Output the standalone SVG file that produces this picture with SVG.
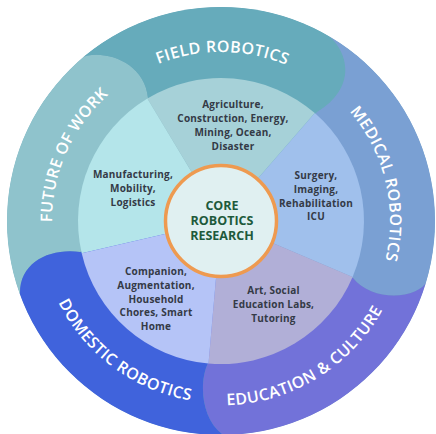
<svg xmlns="http://www.w3.org/2000/svg" width="436" height="434" viewBox="0 0 436 434">
<style>
.band-label{font-family:"Open Sans","Noto Sans",sans-serif;font-weight:600;font-size:16px;fill:#ffffff;letter-spacing:0.4px}
.slice-text{font-family:"Open Sans","Noto Sans",sans-serif;font-weight:700;font-size:10px;letter-spacing:0.2px;fill:#343a46;text-anchor:middle}
.core-text{font-family:"Open Sans","Noto Sans",sans-serif;font-weight:700;font-size:12.5px;fill:#1d5a3b;text-anchor:middle}
</style>
<defs>
<clipPath id="outerClip"><circle cx="221" cy="221" r="214"/></clipPath>
<path id="pField" d="M75.4,135.2 A169,169 0 0 1 368.1,137.8"/>
<path id="pMedical" d="M269,59 A169,169 0 0 1 337.3,343.6"/>
<path id="pEducation" d="M133,383.1 A184.5,184.5 0 0 0 405.4,216.2"/>
<path id="pDomestic" d="M40.2,200.4 A182,182 0 0 0 293.6,387.9"/>
<path id="pFuture" d="M84.3,320.3 A169,169 0 0 1 203.3,52.9"/>
</defs>
<g id="ring" clip-path="url(#outerClip)">
<circle cx="221" cy="221" r="214" fill="#6fa9bd"/>
<g id="future-of-work"><path fill="#8fc3cc" d="M-14.4,305.3 L20,293 C20,262 50,248 80,252 L221,221 L148,98 C145,60 100,48 80,58 L57.3,32 A250,250 0 0 0 -14.4,305.3 Z"/></g>
<g id="field-robotics"><path fill="#66abbb" d="M57.3,32 L80,58 C100,48 145,60 148,98 L221,221 L317,112 C362,85 350,38 305,22 L318.3,-9.3 A250,250 0 0 0 57.3,32 Z"/></g>
<g id="medical-robotics"><path fill="#7aa0d3" d="M318.3,-9.3 L305,22 C350,38 362,85 317,112 L221,221 L353,278 C372,302 418,300 428,280 L461.4,289.5 A250,250 0 0 0 318.3,-9.3 Z"/></g>
<g id="education-culture"><path fill="#7272d9" d="M461.4,289.5 L428,280 C418,300 372,302 353,278 L221,221 L208,363 C199,382 201,418 222,434 L222.3,471 A250,250 0 0 0 461.4,289.5 Z"/></g>
<g id="domestic-robotics"><path fill="#4063dc" d="M222.3,471 L222,434 C201,418 199,382 208,363 L221,221 L80,252 C50,248 20,262 20,293 L-14.4,305.3 A250,250 0 0 0 222.3,471 Z"/></g>
</g>
<g id="band-labels">
<text class="band-label"><textPath href="#pField" startOffset="50%" text-anchor="middle">FIELD ROBOTICS</textPath></text>
<text class="band-label"><textPath href="#pMedical" startOffset="50%" text-anchor="middle">MEDICAL ROBOTICS</textPath></text>
<text class="band-label"><textPath href="#pEducation" startOffset="50%" text-anchor="middle">EDUCATION &amp; CULTURE</textPath></text>
<text class="band-label"><textPath href="#pDomestic" startOffset="50%" text-anchor="middle">DOMESTIC ROBOTICS</textPath></text>
<text class="band-label"><textPath href="#pFuture" startOffset="50%" text-anchor="middle">FUTURE OF WORK</textPath></text>
</g>
<g id="slice-manufacturing">
<path fill="#b4e5ea" d="M221,221 L81.7,253.2 A143,143 0 0 1 147.4,98.4 Z"/>
<text class="slice-text"><tspan x="133" y="178.3">Manufacturing,</tspan><tspan x="133" y="192.3">Mobility,</tspan><tspan x="133" y="206.3">Logistics</tspan></text>
</g>
<g id="slice-agriculture">
<path fill="#a6d1d8" d="M221,221 L147.4,98.4 A143,143 0 0 1 314.8,113.1 Z"/>
<text class="slice-text"><tspan x="233" y="107.5">Agriculture,</tspan><tspan x="233" y="121.8">Construction, Energy,</tspan><tspan x="233" y="136.1">Mining, Ocean,</tspan><tspan x="233" y="150.4">Disaster</tspan></text>
</g>
<g id="slice-surgery">
<path fill="#a0c0ec" d="M221,221 L314.8,113.1 A143,143 0 0 1 352.6,276.9 Z"/>
<text class="slice-text"><tspan x="316" y="179.3">Surgery,</tspan><tspan x="316" y="193">Imaging,</tspan><tspan x="316" y="206.7">Rehabilitation</tspan><tspan x="316" y="220.4">ICU</tspan></text>
</g>
<g id="slice-art">
<path fill="#b1afd7" d="M221,221 L352.6,276.9 A143,143 0 0 1 208.5,363.5 Z"/>
<text class="slice-text"><tspan x="273.5" y="293.5">Art, Social</tspan><tspan x="273.5" y="307.8">Education Labs,</tspan><tspan x="273.5" y="322.1">Tutoring</tspan></text>
</g>
<g id="slice-companion">
<path fill="#b5c4f7" d="M221,221 L208.5,363.5 A143,143 0 0 1 81.7,253.2 Z"/>
<text class="slice-text"><tspan x="156" y="275.2">Companion,</tspan><tspan x="156" y="288.9">Augmentation,</tspan><tspan x="156" y="302.6">Household</tspan><tspan x="156" y="316.3">Chores, Smart</tspan><tspan x="156" y="330">Home</tspan></text>
</g>
<g id="core">
<circle cx="221" cy="221" r="55.5" fill="#e0f0f1" stroke="#ee9a50" stroke-width="3.5"/>
<text class="core-text"><tspan x="222" y="210.2">CORE</tspan><tspan x="222" y="224.5">ROBOTICS</tspan><tspan x="222" y="239.5">RESEARCH</tspan></text>
</g>
</svg>
